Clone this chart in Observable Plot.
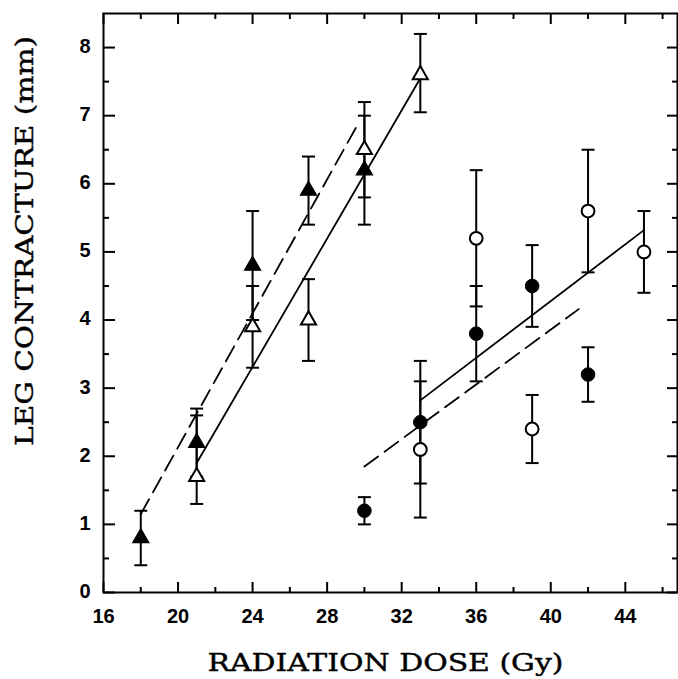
<!DOCTYPE html>
<html>
<head>
<meta charset="utf-8">
<script src="https://cdn.jsdelivr.net/npm/d3@7"></script>
<script src="https://cdn.jsdelivr.net/npm/@observablehq/plot@0.6"></script>
<style>
  html, body { margin: 0; padding: 0; background: #fff; }
  #chart svg { display: block; }
</style>
</head>
<body>
<div id="chart"></div>
<script>
// ---- Data ----
const triFilledDose = [18, 21, 24, 27, 30];
const triFilledMean = [0.8, 2.2, 4.8, 5.9, 6.2];
const triFilledLo   = [0.4, 1.7, 4.0, 5.4, 5.4];
const triFilledHi   = [1.2, 2.7, 5.6, 6.4, 7.0];

const triOpenDose = [21, 24, 27, 30, 33];
const triOpenMean = [1.7, 3.9, 4.0, 6.5, 7.6];
const triOpenLo   = [1.3, 3.3, 3.4, 5.8, 7.05];
const triOpenHi   = [2.6, 4.5, 4.6, 7.2, 8.2];

const circFilledDose = [30, 33, 36, 39, 42];
const circFilledMean = [1.2, 2.5, 3.8, 4.5, 3.2];
const circFilledLo   = [1.0, 1.6, 3.1, 3.9, 2.8];
const circFilledHi   = [1.4, 3.4, 4.5, 5.1, 3.6];

const circOpenDose = [33, 36, 39, 42, 45];
const circOpenMean = [2.1, 5.2, 2.4, 5.6, 5.0];
const circOpenLo   = [1.1, 4.2, 1.9, 4.7, 4.4];
const circOpenHi   = [3.1, 6.2, 2.9, 6.5, 5.6];

// fitted lines (endpoints)
const triSolidX = [21, 33],   triSolidY = [1.9, 7.55];
const triDashX  = [18, 29.7], triDashY  = [1.15, 6.9];
const circSolidX = [33, 45],  circSolidY = [2.82, 5.32];
const circDashX  = [30, 41.5], circDashY = [1.85, 4.16];

const xMajorTicks = [16, 20, 24, 28, 32, 36, 40, 44];
const xMinorTicks = [18, 22, 26, 30, 34, 38, 42, 46];
const yMajorTicks = [0, 1, 2, 3, 4, 5, 6, 7, 8];
const yMinorTicks = [0.5, 1.5, 2.5, 3.5, 4.5, 5.5, 6.5, 7.5];

const xTitle = "RADIATION DOSE (Gy)";
const yTitle = "LEG CONTRACTURE (mm)";

// ---- Build tables ----
const mk = (dose, mean, lo, hi) => dose.map((d, i) => ({dose: d, mean: mean[i], lo: lo[i], hi: hi[i]}));
const triFilled = mk(triFilledDose, triFilledMean, triFilledLo, triFilledHi);
const triOpen = mk(triOpenDose, triOpenMean, triOpenLo, triOpenHi);
const circFilled = mk(circFilledDose, circFilledMean, circFilledLo, circFilledHi);
const circOpen = mk(circOpenDose, circOpenMean, circOpenLo, circOpenHi);
const allPts = [...triFilled, ...triOpen, ...circFilled, ...circOpen];
const seg = (xs, ys) => xs.map((x, i) => ({x, y: ys[i]}));

const W = 678, H = 679;
const mT = 13, mR = 1, mB = 87, mL = 103;
const plotH = H - mT - mB, plotW = W - mL - mR;

const capSymbol = { draw(ctx) { ctx.moveTo(-6.5, 0); ctx.lineTo(6.5, 0); } };

const chart = Plot.plot({
  width: W, height: H,
  marginTop: mT, marginRight: mR, marginBottom: mB, marginLeft: mL,
  style: { fontFamily: "Liberation Sans, Arial, sans-serif", fontSize: "20px", fontWeight: "bold", color: "#000", background: "#fff" },
  x: { domain: [16, 46.8] },
  y: { domain: [0, 8.5] },
  marks: [
    // axis tick labels
    Plot.axisX({ ticks: xMajorTicks, tickSize: 0, tickPadding: 16, label: null }),
    Plot.axisY({ ticks: yMajorTicks, tickSize: 0, tickPadding: 13, dy: -1, label: null }),
    // inward ticks: bottom and top
    Plot.tickX(xMajorTicks, { x: d => d, insetTop: plotH - 10, strokeWidth: 2 }),
    Plot.tickX(xMinorTicks, { x: d => d, insetTop: plotH - 5, strokeWidth: 2 }),
    Plot.tickX(xMajorTicks, { x: d => d, insetBottom: plotH - 11, strokeWidth: 2 }),
    Plot.tickX(xMinorTicks, { x: d => d, insetBottom: plotH - 6, strokeWidth: 2 }),
    // inward ticks: left and right
    Plot.tickY(yMajorTicks, { y: d => d, insetRight: plotW - 12, strokeWidth: 2 }),
    Plot.tickY(yMinorTicks, { y: d => d, insetRight: plotW - 6, strokeWidth: 2 }),
    Plot.tickY(yMajorTicks, { y: d => d, insetLeft: plotW - 10, strokeWidth: 2 }),
    Plot.tickY(yMinorTicks, { y: d => d, insetLeft: plotW - 5, strokeWidth: 2 }),
    Plot.frame({ strokeWidth: 2 }),
    // fitted lines
    Plot.line(seg(triSolidX, triSolidY), { x: "x", y: "y", stroke: "#000", strokeWidth: 1.8 }),
    Plot.line(seg(triDashX, triDashY), { x: "x", y: "y", stroke: "#000", strokeWidth: 1.8, strokeDasharray: "17,8" }),
    Plot.line(seg(circSolidX, circSolidY), { x: "x", y: "y", stroke: "#000", strokeWidth: 1.8 }),
    Plot.line(seg(circDashX, circDashY), { x: "x", y: "y", stroke: "#000", strokeWidth: 1.8, strokeDasharray: "17,8" }),
    // error bars
    Plot.ruleX(allPts, { x: "dose", y1: "lo", y2: "hi", stroke: "#000", strokeWidth: 2 }),
    Plot.dot(allPts, { x: "dose", y: "lo", symbol: capSymbol, stroke: "#000", strokeWidth: 2, fill: "none" }),
    Plot.dot(allPts, { x: "dose", y: "hi", symbol: capSymbol, stroke: "#000", strokeWidth: 2, fill: "none" }),
    // markers
    Plot.dot(triFilled, { x: "dose", y: "mean", symbol: "triangle", r: 6, fill: "#000", stroke: "#000", strokeWidth: 1.2 }),
    Plot.dot(triOpen, { x: "dose", y: "mean", symbol: "triangle", r: 5.6, fill: "#fff", stroke: "#000", strokeWidth: 2 }),
    Plot.dot(circFilled, { x: "dose", y: "mean", symbol: "circle", r: 6.8, fill: "#000", stroke: "#000", strokeWidth: 1 }),
    Plot.dot(circOpen, { x: "dose", y: "mean", symbol: "circle", r: 6.4, fill: "#fff", stroke: "#000", strokeWidth: 2 }),
    // axis titles
    Plot.text([xTitle], { frameAnchor: "bottom", textAnchor: "middle", lineAnchor: "bottom", dy: 78, dx: -5, fontFamily: "DejaVu Serif", fontSize: 24, fontWeight: "normal", fill: "#000", stroke: "#000", strokeWidth: 0.4 }),
    Plot.text([yTitle], { frameAnchor: "left", textAnchor: "middle", lineAnchor: "middle", rotate: -90, dx: -78, dy: -62, fontFamily: "DejaVu Serif", fontSize: 24, fontWeight: "normal", fill: "#000", stroke: "#000", strokeWidth: 0.4 })
  ]
});

// stretch the serif titles horizontally to the reference's wide lettering
d3.select(chart).selectAll("text")
  .filter(function () { return this.textContent === xTitle; })
  .attr("textLength", 356).attr("lengthAdjust", "spacingAndGlyphs");
d3.select(chart).selectAll("text")
  .filter(function () { return this.textContent === yTitle; })
  .attr("textLength", 410).attr("lengthAdjust", "spacingAndGlyphs");

document.getElementById("chart").appendChild(chart);
</script>
</body>
</html>
